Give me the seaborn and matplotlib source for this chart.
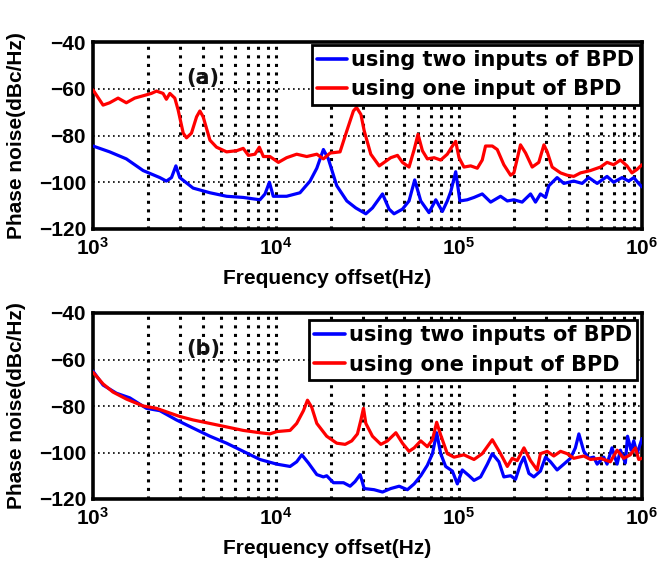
import numpy as np
import pandas as pd
import matplotlib
matplotlib.use("Agg")
import matplotlib.pyplot as plt
from matplotlib.ticker import LogLocator, FixedLocator
import seaborn as sns

# ---------------- data (log10 of frequency offset in Hz, phase noise in dBc/Hz) ----------------
a_two_logf = [3.000, 3.091, 3.182, 3.274, 3.365, 3.401, 3.429, 3.453, 3.474, 3.547, 3.639, 3.730,
              3.821, 3.912, 3.940, 3.964, 3.985, 4.058, 4.131, 4.186, 4.223, 4.259, 4.286, 4.332,
              4.387, 4.436, 4.491, 4.527, 4.582, 4.618, 4.645, 4.691, 4.727, 4.758, 4.791, 4.836,
              4.873, 4.909, 4.936, 4.955, 4.982, 5.005, 5.045, 5.082, 5.127, 5.173, 5.227, 5.264,
              5.300, 5.345, 5.391, 5.418, 5.445, 5.473, 5.491, 5.536, 5.573, 5.627, 5.673, 5.709,
              5.755, 5.809, 5.845, 5.891, 5.927, 5.955, 5.982, 6.000]
a_two_pn = [-84.5, -87, -90, -95, -98, -99.5, -98, -93, -98, -102.5, -104.5, -106,
            -106.5, -107.5, -105, -100, -106, -106, -104.5, -99.5, -94, -86, -90, -101.5,
            -108, -111, -113.5, -111, -105, -111.5, -113.5, -111.5, -108, -99, -108, -113,
            -107.5, -112.5, -108, -104, -95.5, -108, -107.5, -106.5, -105, -108.5, -106, -108,
            -107.5, -108.5, -105, -108.5, -105, -106.5, -101.5, -98, -100.5, -99.5, -100.5, -98,
            -100.5, -97.5, -100, -98, -99.5, -98, -100.5, -102]

a_one_logf = [3.000, 3.055, 3.091, 3.137, 3.182, 3.228, 3.274, 3.319, 3.347, 3.383, 3.401, 3.420,
              3.447, 3.465, 3.493, 3.511, 3.538, 3.566, 3.584, 3.602, 3.639, 3.675, 3.730, 3.785,
              3.821, 3.849, 3.885, 3.909, 3.931, 3.967, 4.013, 4.058, 4.113, 4.168, 4.223, 4.259,
              4.296, 4.350, 4.387, 4.423, 4.440, 4.464, 4.482, 4.518, 4.564, 4.591, 4.627, 4.664,
              4.691, 4.727, 4.755, 4.776, 4.800, 4.827, 4.864, 4.900, 4.936, 4.964, 4.982, 5.000,
              5.027, 5.064, 5.100, 5.127, 5.145, 5.182, 5.209, 5.245, 5.282, 5.300, 5.336, 5.364,
              5.400, 5.436, 5.464, 5.482, 5.509, 5.555, 5.591, 5.627, 5.664, 5.718, 5.773, 5.809,
              5.845, 5.882, 5.918, 5.945, 5.973, 6.000]
a_one_pn = [-60.5, -67, -66, -64, -66, -64, -63, -62, -61, -62, -64.5, -62,
            -64, -69, -79, -81, -79, -72, -69.5, -72, -82, -85, -87, -86.5,
            -85.5, -88.5, -88, -85, -89, -89, -91.5, -89.5, -88, -89, -88, -90,
            -87.5, -87, -78, -69.5, -68, -71, -78, -88, -93, -91.5, -89.5, -88.5,
            -91.5, -93.5, -86, -79.5, -86.5, -90, -89.5, -90.5, -88, -84.5, -82.5, -89.5,
            -93.5, -93, -94, -90.5, -84.5, -84.5, -86, -92.5, -97, -96, -84, -87.5,
            -93.5, -91.5, -84, -87, -93.5, -96, -97, -97.5, -96, -95, -93.5, -91.5,
            -92.5, -90.5, -93, -96, -94.5, -92.5]

b_two_logf = [3.000, 3.055, 3.128, 3.201, 3.292, 3.365, 3.456, 3.547, 3.639, 3.730, 3.821, 3.912,
              4.004, 4.077, 4.113, 4.141, 4.177, 4.223, 4.259, 4.277, 4.314, 4.369, 4.405, 4.432,
              4.460, 4.482, 4.536, 4.582, 4.627, 4.673, 4.718, 4.755, 4.791, 4.827, 4.855, 4.878,
              4.900, 4.927, 4.964, 4.991, 5.018, 5.055, 5.082, 5.118, 5.155, 5.182, 5.218, 5.245,
              5.282, 5.309, 5.336, 5.355, 5.382, 5.409, 5.445, 5.473, 5.500, 5.536, 5.573, 5.609,
              5.636, 5.655, 5.682, 5.709, 5.736, 5.755, 5.791, 5.809, 5.836, 5.864, 5.882, 5.909,
              5.921, 5.940, 5.955, 5.973, 6.000]
b_two_pn = [-65, -71, -74.5, -76.5, -81, -82, -86, -89.5, -93, -96, -99.5, -103,
            -105, -106, -104, -101, -104.5, -109.5, -110.5, -110, -113, -113, -114.5, -112.5,
            -109.5, -115.5, -116, -117, -115.5, -114.5, -116, -113.5, -110, -105.5, -100.5, -91.5,
            -100.5, -106, -108, -113.5, -107.5, -110, -112, -110.5, -105, -100.5, -104, -110.5,
            -110, -111.5, -105, -102, -109, -110.5, -108, -102, -104, -107.5, -105, -102.5,
            -98, -92, -99.5, -102.5, -102, -105, -102, -105, -98, -105, -99, -104.5,
            -93, -99, -95, -100.5, -94]

b_one_logf = [3.000, 3.055, 3.109, 3.182, 3.274, 3.347, 3.401, 3.474, 3.547, 3.639, 3.730, 3.821,
              3.912, 3.967, 4.004, 4.077, 4.113, 4.150, 4.172, 4.195, 4.223, 4.277, 4.332, 4.378,
              4.414, 4.445, 4.464, 4.478, 4.491, 4.527, 4.573, 4.609, 4.655, 4.691, 4.727, 4.755,
              4.791, 4.827, 4.855, 4.878, 4.900, 4.936, 4.973, 5.027, 5.082, 5.127, 5.182, 5.227,
              5.264, 5.291, 5.318, 5.355, 5.391, 5.427, 5.445, 5.482, 5.518, 5.555, 5.591, 5.627,
              5.682, 5.718, 5.773, 5.827, 5.864, 5.900, 5.936, 5.964, 5.982, 6.000]
b_one_pn = [-65.5, -70.5, -74, -77, -80, -81, -82.5, -84.5, -86, -87.5, -89, -90.5,
            -91.5, -92, -91, -90.5, -87.5, -82, -77.5, -80.5, -87.5, -93, -96, -96.5,
            -95, -92, -86, -81, -87.5, -93, -96.5, -95, -91.5, -96, -99.5, -98,
            -95, -97.5, -94.5, -87, -92.5, -100.5, -102, -101, -103, -100.5, -94.5, -100.5,
            -106, -102.5, -103.5, -98, -103.5, -107.5, -100.5, -99.5, -101.5, -99.5, -100.5, -102.5,
            -101.5, -103, -102.5, -104, -99, -102.5, -101, -98, -103, -102.5]

legend_labels = ["using two inputs of BPD", "using one input of BPD"]
panel_labels = ["(a)", "(b)"]
y_ticks = [-120, -100, -80, -60, -40]
x_ticks = [1e3, 1e4, 1e5, 1e6]

# ---------------- style ----------------
sns.set_theme(style="white")
FONT = "Liberation Sans"
WIDE = "DejaVu Sans"
plt.rcParams["font.family"] = [FONT, "DejaVu Sans"]
plt.rcParams["font.weight"] = "bold"
plt.rcParams["text.color"] = "black"
plt.rcParams["axes.labelcolor"] = "black"
plt.rcParams["xtick.color"] = "black"
plt.rcParams["ytick.color"] = "black"
plt.rcParams["mathtext.fontset"] = "custom"
plt.rcParams["mathtext.rm"] = FONT + ":bold"
plt.rcParams["mathtext.bf"] = FONT + ":bold"
plt.rcParams["mathtext.it"] = FONT + ":bold"
plt.rcParams["mathtext.default"] = "bf"

FS = 15
fig = plt.figure(figsize=(6.62, 5.65), dpi=100)
ax_a = fig.add_axes([93 / 662, 1 - 229 / 565, 549 / 662, 187 / 565])
ax_b = fig.add_axes([93 / 662, 1 - 499 / 565, 549 / 662, 186 / 565])

panels = [
    (ax_a, a_two_logf, a_two_pn, a_one_logf, a_one_pn, panel_labels[0], (0.996, 0.985)),
    (ax_b, b_two_logf, b_two_pn, b_one_logf, b_one_pn, panel_labels[1], (0.991, 0.962)),
]

for ax, tlf, tpn, olf, opn, plab, anchor in panels:
    df_two = pd.DataFrame({"f": 10 ** np.asarray(tlf), "pn": tpn})
    df_one = pd.DataFrame({"f": 10 ** np.asarray(olf), "pn": opn})
    sns.lineplot(data=df_two, x="f", y="pn", ax=ax, color="#0000ff", lw=2.3,
                 estimator=None, sort=False, label=legend_labels[0], zorder=3)
    sns.lineplot(data=df_one, x="f", y="pn", ax=ax, color="#ff0000", lw=2.3,
                 estimator=None, sort=False, label=legend_labels[1], zorder=3)
    ax.set_xscale("log")
    ax.set_xlim(1e3, 1e6)
    ax.set_ylim(-120, -40)
    ax.xaxis.set_major_locator(FixedLocator(x_ticks))
    ax.xaxis.set_minor_locator(LogLocator(base=10, subs=np.arange(2, 10), numticks=20))
    ax.set_yticks(y_ticks)
    ax.tick_params(axis="both", which="major", direction="in", labelsize=FS, length=5,
                   width=1.5, pad=5, colors="black")
    ax.tick_params(axis="x", which="minor", direction="in", length=3, width=1.2, colors="black")
    ax.tick_params(axis="x", which="major", pad=6)
    for lab in ax.get_xticklabels() + ax.get_yticklabels():
        lab.set_fontweight("bold")
        lab.set_color("black")
    # grids
    ax.grid(False)
    for f in list(x_ticks[1:-1]) + [m * 10 ** d for d in (3, 4, 5) for m in range(2, 10)]:
        ax.axvline(f, color="black", lw=2.2, ls=(0, (1, 1.8)), zorder=1)
    for yv in y_ticks[1:-1]:
        ax.axhline(yv, color="black", lw=1.2, ls=(0, (1, 2)), zorder=1)
    for s in ax.spines.values():
        s.set_linewidth(2.6)
        s.set_color("black")
    ax.set_xlabel("Frequency offset(Hz)", fontsize=FS, fontweight="bold", color="black")
    ax.xaxis.set_label_coords(0.426, -0.215)
    ax.set_ylabel("Phase noise(dBc/Hz)", fontsize=FS, fontweight="bold", color="black")
    ax.yaxis.set_label_coords(-0.122, 0.5)
    ax.text(4000, -55.5, plab, fontsize=FS, fontweight="bold", ha="center", va="center",
            family=[WIDE], color="#111111", zorder=4)
    leg = ax.legend(loc="upper right", bbox_to_anchor=anchor, frameon=True,
                    prop={"family": WIDE, "weight": "bold", "size": FS},
                    fancybox=False, shadow=False, framealpha=1, edgecolor="black",
                    handlelength=1.45, handletextpad=0.2, borderpad=0.25,
                    labelspacing=0.45, borderaxespad=0.0)
    leg.get_frame().set_linewidth(2.0)
    for t in leg.get_texts():
        t.set_color("black")
    for h in leg.get_lines():
        h.set_linewidth(2.6)
    ax.set_facecolor("white")

fig.savefig("out.png", dpi=100, facecolor="white")
